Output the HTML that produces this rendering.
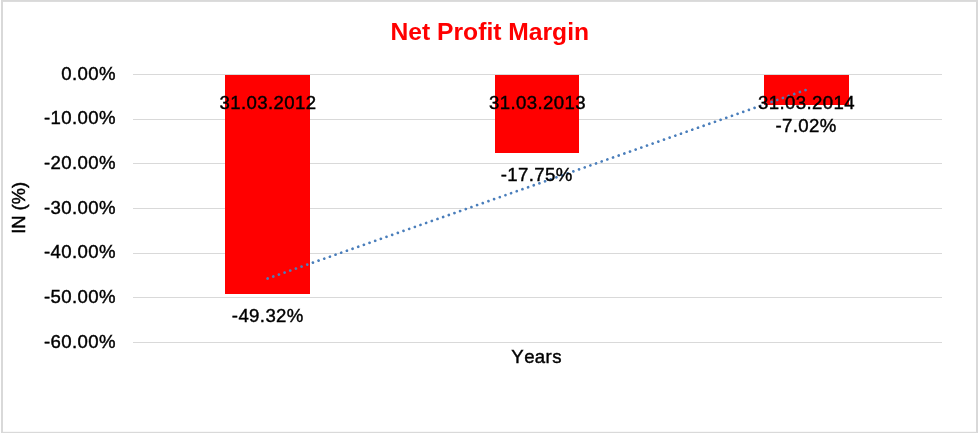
<!DOCTYPE html>
<html>
<head>
<meta charset="utf-8">
<title>Net Profit Margin</title>
<style>
html,body{margin:0;padding:0;background:#fff;}
body{width:978px;height:433px;overflow:hidden;}
svg{display:block;}
text{font-family:"Liberation Sans",Arial,sans-serif;}
</style>
</head>
<body>
<svg width="978" height="433" viewBox="0 0 978 433">
  <rect x="0" y="0" width="978" height="433" fill="#ffffff"/>
  <!-- frame -->
  <g fill="#d9d9d9">
    <rect x="1" y="0" width="977" height="1.9"/>
    <rect x="1" y="0" width="2" height="433"/>
    <rect x="976" y="0" width="2" height="433"/>
    <rect x="1" y="431.8" width="977" height="1.2"/>
  </g>
  <!-- gridlines -->
  <g stroke="#d9d9d9" stroke-width="1" shape-rendering="crispEdges">
    <line x1="133" x2="942" y1="74.5" y2="74.5"/>
    <line x1="133" x2="942" y1="119.5" y2="119.5"/>
    <line x1="133" x2="942" y1="163.5" y2="163.5"/>
    <line x1="133" x2="942" y1="208.5" y2="208.5"/>
    <line x1="133" x2="942" y1="253.5" y2="253.5"/>
    <line x1="133" x2="942" y1="297.5" y2="297.5"/>
    <line x1="133" x2="942" y1="342.5" y2="342.5"/>
  </g>
  <!-- bars -->
  <g fill="#ff0000" shape-rendering="crispEdges">
    <rect x="225" y="75" width="85" height="219"/>
    <rect x="495" y="75" width="84" height="78"/>
    <rect x="764" y="75" width="85" height="30"/>
  </g>
  <!-- trendline -->
  <line x1="267.6" y1="278.5" x2="806.2" y2="89.8" stroke="#4a7ebb" stroke-width="2.7" stroke-linecap="round" stroke-dasharray="0.01 5.99"/>
  <!-- title -->
  <text x="489.8" y="39.5" font-size="24.65" font-weight="bold" fill="#ff0000" text-anchor="middle">Net Profit Margin</text>
  <!-- y axis labels -->
  <g font-size="18.6" letter-spacing="0.38" fill="#000" stroke="#000" stroke-width="0.42" text-anchor="end">
    <text x="115.9" y="80.2">0.00%</text>
    <text x="115.9" y="124.3">-10.00%</text>
    <text x="115.9" y="169.3">-20.00%</text>
    <text x="115.9" y="214.3">-30.00%</text>
    <text x="115.9" y="258.3">-40.00%</text>
    <text x="115.9" y="303.3">-50.00%</text>
    <text x="115.9" y="348.3">-60.00%</text>
  </g>
  <!-- category labels -->
  <g font-size="18.6" letter-spacing="0.38" fill="#000" stroke="#000" stroke-width="0.42" text-anchor="middle">
    <text x="268.0" y="109.4">31.03.2012</text>
    <text x="537.5" y="109.4">31.03.2013</text>
    <text x="806.5" y="109.4">31.03.2014</text>
  </g>
  <!-- data labels -->
  <g font-size="18.6" letter-spacing="0.38" fill="#000" stroke="#000" stroke-width="0.42" text-anchor="middle">
    <text x="267.8" y="321.9">-49.32%</text>
    <text x="536.6" y="180.8">-17.75%</text>
    <text x="806.0" y="132.1">-7.02%</text>
  </g>
  <!-- axis titles -->
  <text x="536.6" y="362.7" font-size="18.6" letter-spacing="0.38" fill="#000" stroke="#000" stroke-width="0.42" text-anchor="middle" style="font-kerning:none">Years</text>
  <text transform="translate(25.3,207.9) rotate(-90)" font-size="18.3" fill="#000" stroke="#000" stroke-width="0.5" text-anchor="middle">IN (%)</text>
</svg>
</body>
</html>
